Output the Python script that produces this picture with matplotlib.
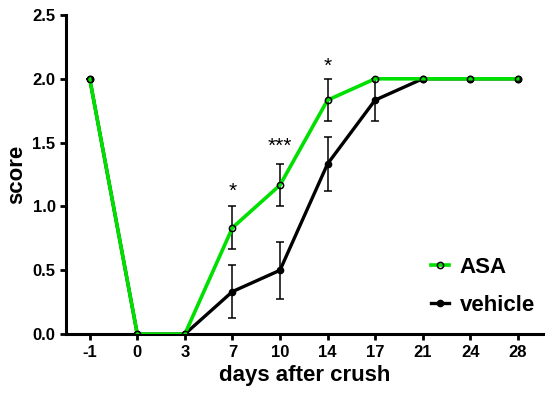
import numpy as np
import matplotlib.pyplot as plt
from matplotlib.lines import Line2D

plt.rcParams['font.family'] = ['Liberation Sans', 'DejaVu Sans']

days = ['-1', '0', '3', '7', '10', '14', '17', '21', '24', '28']
asa = [2.0, 0.0, 0.0, 0.833, 1.167, 1.833, 2.0, 2.0, 2.0, 2.0]
asa_err = [0, 0, 0, 0.167, 0.167, 0.167, 0, 0, 0, 0]
vehicle = [2.0, 0.0, 0.0, 0.333, 0.5, 1.333, 1.833, 2.0, 2.0, 2.0]
vehicle_err = [0, 0, 0, 0.21, 0.225, 0.21, 0.167, 0, 0, 0]
stars = {3: ('*', 1.12), 4: ('***', 1.47), 5: ('*', 2.10)}

green = '#00e000'
x = np.arange(len(days))

fig = plt.figure(figsize=(5.45, 3.94), dpi=100)
ax = fig.add_axes([0.121, 0.152, 0.877, 0.810])

ax.errorbar(x, vehicle, yerr=vehicle_err, color='black', lw=2.4, marker='o',
            ms=4.5, capsize=3, elinewidth=1.1, capthick=1.1, ecolor='black',
            zorder=2)
ax.errorbar(x, asa, yerr=asa_err, color=green, lw=2.6, marker='o',
            ms=4.5, mfc='none', mec='black', mew=1.1, capsize=3,
            elinewidth=1.1, capthick=1.1, ecolor='black', zorder=3)

for i, (txt, yy) in stars.items():
    ax.text(x[i], yy, txt, ha='center', va='center', fontsize=15)

ax.set_xlim(-0.5, 9.55)
ax.set_ylim(0, 2.5)
ax.set_xticks(x)
ax.set_xticklabels(days)
ax.set_yticks([0, 0.5, 1.0, 1.5, 2.0, 2.5])
ax.set_yticklabels(['0.0', '0.5', '1.0', '1.5', '2.0', '2.5'])
for lbl in ax.get_xticklabels() + ax.get_yticklabels():
    lbl.set_fontweight('bold')
    lbl.set_fontsize(12)
ax.tick_params(width=2, length=4, direction='out')

for s in ['top', 'right']:
    ax.spines[s].set_visible(False)
for s in ['left', 'bottom']:
    ax.spines[s].set_linewidth(2.2)

ax.set_xlabel('days after crush', fontsize=16, fontweight='bold', labelpad=4)
ax.set_ylabel('score', fontsize=16, fontweight='bold', labelpad=4)

handles = [Line2D([], [], color=green, lw=2.6, marker='o', ms=4.5,
                  mfc='none', mec='black', mew=1.1),
           Line2D([], [], color='black', lw=2.4, marker='o', ms=4.5)]
ax.legend(handles, ['ASA', 'vehicle'], loc='lower right', frameon=False,
          prop={'weight': 'bold', 'size': 16}, handlelength=0.8,
          handletextpad=0.5, labelspacing=0.75, borderaxespad=0.0,
          bbox_to_anchor=(1.0, 0.03))

fig.savefig('out.png', dpi=100)
